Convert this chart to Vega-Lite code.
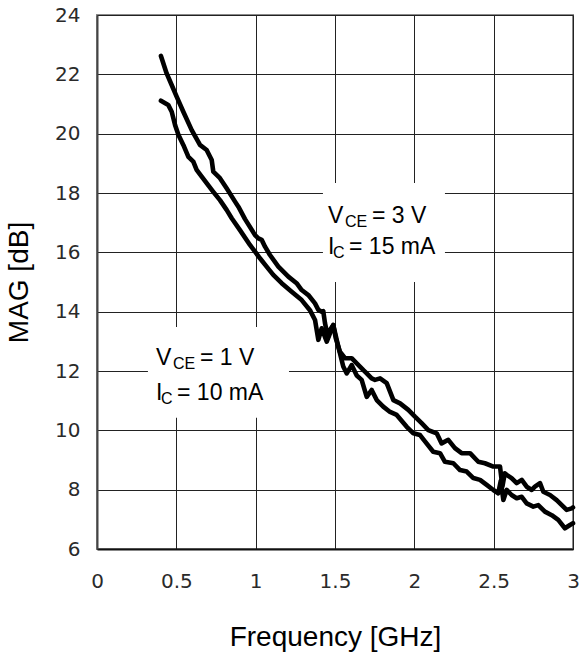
{
  "$schema": "https://vega.github.io/schema/vega-lite/v6.json",
  "width": 476,
  "height": 534,
  "autosize": "none",
  "padding": {"left": 97, "top": 15, "right": 8, "bottom": 107},
  "background": "white",
  "config": {
    "view": {"stroke": "#8a8a8a", "strokeWidth": 2},
    "axis": {
      "grid": true,
      "gridColor": "#222222",
      "gridWidth": 1,
      "gridOpacity": 1,
      "ticks": false,
      "domainWidth": 2,
      "labelFont": "DejaVu Sans",
      "labelFontSize": 20,
      "labelColor": "#2a2a2a",
      "titleFont": "Liberation Sans",
      "titleFontSize": 28,
      "titleFontWeight": "normal",
      "titleColor": "#000000"
    }
  },
  "datasets": {
    "curves": [
      {"series": "VCE=3V", "f": 0.403, "mag": 22.62},
      {"series": "VCE=3V", "f": 0.439, "mag": 22.03},
      {"series": "VCE=3V", "f": 0.47, "mag": 21.65},
      {"series": "VCE=3V", "f": 0.502, "mag": 21.25},
      {"series": "VCE=3V", "f": 0.544, "mag": 20.74},
      {"series": "VCE=3V", "f": 0.597, "mag": 20.12},
      {"series": "VCE=3V", "f": 0.649, "mag": 19.62},
      {"series": "VCE=3V", "f": 0.691, "mag": 19.45},
      {"series": "VCE=3V", "f": 0.723, "mag": 19.11},
      {"series": "VCE=3V", "f": 0.733, "mag": 18.72},
      {"series": "VCE=3V", "f": 0.775, "mag": 18.5},
      {"series": "VCE=3V", "f": 0.817, "mag": 18.16},
      {"series": "VCE=3V", "f": 0.87, "mag": 17.71},
      {"series": "VCE=3V", "f": 0.891, "mag": 17.54},
      {"series": "VCE=3V", "f": 0.933, "mag": 17.12},
      {"series": "VCE=3V", "f": 0.996, "mag": 16.58},
      {"series": "VCE=3V", "f": 1.017, "mag": 16.47},
      {"series": "VCE=3V", "f": 1.038, "mag": 16.42},
      {"series": "VCE=3V", "f": 1.059, "mag": 16.19},
      {"series": "VCE=3V", "f": 1.09, "mag": 15.91},
      {"series": "VCE=3V", "f": 1.143, "mag": 15.52},
      {"series": "VCE=3V", "f": 1.206, "mag": 15.18},
      {"series": "VCE=3V", "f": 1.258, "mag": 14.96},
      {"series": "VCE=3V", "f": 1.29, "mag": 14.73},
      {"series": "VCE=3V", "f": 1.332, "mag": 14.56},
      {"series": "VCE=3V", "f": 1.374, "mag": 14.28},
      {"series": "VCE=3V", "f": 1.395, "mag": 14.06},
      {"series": "VCE=3V", "f": 1.416, "mag": 14.0},
      {"series": "VCE=3V", "f": 1.426, "mag": 14.02},
      {"series": "VCE=3V", "f": 1.437, "mag": 13.61},
      {"series": "VCE=3V", "f": 1.455, "mag": 13.15},
      {"series": "VCE=3V", "f": 1.47, "mag": 13.4},
      {"series": "VCE=3V", "f": 1.489, "mag": 13.55},
      {"series": "VCE=3V", "f": 1.505, "mag": 13.1},
      {"series": "VCE=3V", "f": 1.531, "mag": 12.65},
      {"series": "VCE=3V", "f": 1.563, "mag": 12.43},
      {"series": "VCE=3V", "f": 1.605, "mag": 12.43},
      {"series": "VCE=3V", "f": 1.637, "mag": 12.26},
      {"series": "VCE=3V", "f": 1.679, "mag": 12.03},
      {"series": "VCE=3V", "f": 1.7, "mag": 11.92},
      {"series": "VCE=3V", "f": 1.731, "mag": 11.75},
      {"series": "VCE=3V", "f": 1.752, "mag": 11.7},
      {"series": "VCE=3V", "f": 1.784, "mag": 11.75},
      {"series": "VCE=3V", "f": 1.826, "mag": 11.59},
      {"series": "VCE=3V", "f": 1.868, "mag": 11.02},
      {"series": "VCE=3V", "f": 1.91, "mag": 10.91},
      {"series": "VCE=3V", "f": 1.962, "mag": 10.69},
      {"series": "VCE=3V", "f": 2.004, "mag": 10.46},
      {"series": "VCE=3V", "f": 2.046, "mag": 10.24},
      {"series": "VCE=3V", "f": 2.088, "mag": 10.01},
      {"series": "VCE=3V", "f": 2.141, "mag": 9.9},
      {"series": "VCE=3V", "f": 2.172, "mag": 9.56},
      {"series": "VCE=3V", "f": 2.214, "mag": 9.68},
      {"series": "VCE=3V", "f": 2.256, "mag": 9.4},
      {"series": "VCE=3V", "f": 2.298, "mag": 9.23},
      {"series": "VCE=3V", "f": 2.351, "mag": 9.23},
      {"series": "VCE=3V", "f": 2.403, "mag": 8.94},
      {"series": "VCE=3V", "f": 2.445, "mag": 8.89},
      {"series": "VCE=3V", "f": 2.498, "mag": 8.78},
      {"series": "VCE=3V", "f": 2.54, "mag": 8.78},
      {"series": "VCE=3V", "f": 2.555, "mag": 8.1},
      {"series": "VCE=3V", "f": 2.57, "mag": 8.55},
      {"series": "VCE=3V", "f": 2.582, "mag": 8.5},
      {"series": "VCE=3V", "f": 2.613, "mag": 8.39},
      {"series": "VCE=3V", "f": 2.645, "mag": 8.22},
      {"series": "VCE=3V", "f": 2.677, "mag": 8.33},
      {"series": "VCE=3V", "f": 2.708, "mag": 8.1},
      {"series": "VCE=3V", "f": 2.74, "mag": 7.99},
      {"series": "VCE=3V", "f": 2.76, "mag": 8.1},
      {"series": "VCE=3V", "f": 2.792, "mag": 8.22},
      {"series": "VCE=3V", "f": 2.813, "mag": 7.93},
      {"series": "VCE=3V", "f": 2.855, "mag": 7.82},
      {"series": "VCE=3V", "f": 2.897, "mag": 7.65},
      {"series": "VCE=3V", "f": 2.939, "mag": 7.43},
      {"series": "VCE=3V", "f": 2.96, "mag": 7.32},
      {"series": "VCE=3V", "f": 2.992, "mag": 7.37},
      {"series": "VCE=3V", "f": 3.0, "mag": 7.4},
      {"series": "VCE=1V", "f": 0.403, "mag": 21.11},
      {"series": "VCE=1V", "f": 0.449, "mag": 20.97},
      {"series": "VCE=1V", "f": 0.471, "mag": 20.74},
      {"series": "VCE=1V", "f": 0.492, "mag": 20.29},
      {"series": "VCE=1V", "f": 0.513, "mag": 19.96},
      {"series": "VCE=1V", "f": 0.544, "mag": 19.62},
      {"series": "VCE=1V", "f": 0.576, "mag": 19.22},
      {"series": "VCE=1V", "f": 0.607, "mag": 19.06},
      {"series": "VCE=1V", "f": 0.628, "mag": 18.78},
      {"series": "VCE=1V", "f": 0.66, "mag": 18.55},
      {"series": "VCE=1V", "f": 0.691, "mag": 18.33},
      {"series": "VCE=1V", "f": 0.733, "mag": 18.04},
      {"series": "VCE=1V", "f": 0.775, "mag": 17.76},
      {"series": "VCE=1V", "f": 0.817, "mag": 17.43},
      {"series": "VCE=1V", "f": 0.849, "mag": 17.15},
      {"series": "VCE=1V", "f": 0.901, "mag": 16.75},
      {"series": "VCE=1V", "f": 0.964, "mag": 16.25},
      {"series": "VCE=1V", "f": 0.996, "mag": 16.02},
      {"series": "VCE=1V", "f": 1.027, "mag": 15.8},
      {"series": "VCE=1V", "f": 1.069, "mag": 15.52},
      {"series": "VCE=1V", "f": 1.111, "mag": 15.24},
      {"series": "VCE=1V", "f": 1.164, "mag": 14.96},
      {"series": "VCE=1V", "f": 1.227, "mag": 14.67},
      {"series": "VCE=1V", "f": 1.29, "mag": 14.39},
      {"series": "VCE=1V", "f": 1.342, "mag": 14.05},
      {"series": "VCE=1V", "f": 1.374, "mag": 13.72},
      {"series": "VCE=1V", "f": 1.395, "mag": 13.05},
      {"series": "VCE=1V", "f": 1.416, "mag": 13.44},
      {"series": "VCE=1V", "f": 1.448, "mag": 12.99},
      {"series": "VCE=1V", "f": 1.489, "mag": 13.55},
      {"series": "VCE=1V", "f": 1.521, "mag": 12.82},
      {"series": "VCE=1V", "f": 1.552, "mag": 12.15},
      {"series": "VCE=1V", "f": 1.574, "mag": 11.92},
      {"series": "VCE=1V", "f": 1.605, "mag": 12.2},
      {"series": "VCE=1V", "f": 1.637, "mag": 11.85},
      {"series": "VCE=1V", "f": 1.668, "mag": 11.7},
      {"series": "VCE=1V", "f": 1.7, "mag": 11.13},
      {"series": "VCE=1V", "f": 1.731, "mag": 11.36},
      {"series": "VCE=1V", "f": 1.763, "mag": 11.02},
      {"series": "VCE=1V", "f": 1.804, "mag": 10.8},
      {"series": "VCE=1V", "f": 1.847, "mag": 10.62},
      {"series": "VCE=1V", "f": 1.889, "mag": 10.52},
      {"series": "VCE=1V", "f": 1.952, "mag": 10.12},
      {"series": "VCE=1V", "f": 1.994, "mag": 9.9},
      {"series": "VCE=1V", "f": 2.036, "mag": 9.84},
      {"series": "VCE=1V", "f": 2.077, "mag": 9.56},
      {"series": "VCE=1V", "f": 2.119, "mag": 9.28},
      {"series": "VCE=1V", "f": 2.162, "mag": 9.23},
      {"series": "VCE=1V", "f": 2.193, "mag": 8.94},
      {"series": "VCE=1V", "f": 2.246, "mag": 8.89},
      {"series": "VCE=1V", "f": 2.288, "mag": 8.66},
      {"series": "VCE=1V", "f": 2.33, "mag": 8.61},
      {"series": "VCE=1V", "f": 2.372, "mag": 8.39},
      {"series": "VCE=1V", "f": 2.414, "mag": 8.33},
      {"series": "VCE=1V", "f": 2.456, "mag": 8.16},
      {"series": "VCE=1V", "f": 2.498, "mag": 7.99},
      {"series": "VCE=1V", "f": 2.529, "mag": 7.88},
      {"series": "VCE=1V", "f": 2.545, "mag": 8.3},
      {"series": "VCE=1V", "f": 2.561, "mag": 7.65},
      {"series": "VCE=1V", "f": 2.582, "mag": 7.99},
      {"series": "VCE=1V", "f": 2.613, "mag": 7.82},
      {"series": "VCE=1V", "f": 2.645, "mag": 7.71},
      {"series": "VCE=1V", "f": 2.677, "mag": 7.76},
      {"series": "VCE=1V", "f": 2.708, "mag": 7.54},
      {"series": "VCE=1V", "f": 2.75, "mag": 7.43},
      {"series": "VCE=1V", "f": 2.781, "mag": 7.48},
      {"series": "VCE=1V", "f": 2.823, "mag": 7.26},
      {"series": "VCE=1V", "f": 2.866, "mag": 7.14},
      {"series": "VCE=1V", "f": 2.907, "mag": 6.98},
      {"series": "VCE=1V", "f": 2.949, "mag": 6.7},
      {"series": "VCE=1V", "f": 2.981, "mag": 6.81},
      {"series": "VCE=1V", "f": 3.0, "mag": 6.87}
    ],
    "boxes": [
      {"f": 1.424, "f2": 2.193, "mag": 15.0, "mag2": 18.34},
      {"f": 0.321, "f2": 1.21, "mag": 10.42, "mag2": 13.48}
    ],
    "labels": [
      {"kind": "V", "f": 1.456, "mag": 16.99, "main": "V", "sub": "CE", "rest": "= 3 V"},
      {"kind": "I", "f": 1.456, "mag": 15.94, "main": "I", "sub": "C", "rest": "= 15 mA"},
      {"kind": "V", "f": 0.372, "mag": 12.2, "main": "V", "sub": "CE", "rest": "= 1 V"},
      {"kind": "I", "f": 0.372, "mag": 11.02, "main": "I", "sub": "C", "rest": "= 10 mA"}
    ]
  },
  "encoding": {
    "x": {
      "field": "f",
      "type": "quantitative",
      "scale": {"domain": [0, 3], "nice": false},
      "axis": {
        "title": "Frequency [GHz]",
        "values": [0, 0.5, 1, 1.5, 2, 2.5, 3],
        "format": "~g",
        "labelPadding": 22,
        "titlePadding": 32,
        "domainColor": "#111111",
        "labelFlush": false
      }
    },
    "y": {
      "field": "mag",
      "type": "quantitative",
      "scale": {"domain": [6, 24], "nice": false},
      "axis": {
        "title": "MAG [dB]",
        "values": [6, 8, 10, 12, 14, 16, 18, 20, 22, 24],
        "labelPadding": 17,
        "titlePadding": 21,
        "domainColor": "#444444",
        "labelFlush": false
      }
    }
  },
  "layer": [
    {
      "data": {"name": "boxes"},
      "mark": {"type": "rect", "fill": "white", "stroke": null},
      "encoding": {
        "x2": {"field": "f2"},
        "y2": {"field": "mag2"}
      }
    },
    {
      "data": {"name": "curves"},
      "mark": {"type": "line", "color": "black", "strokeWidth": 4.6, "strokeJoin": "round", "strokeCap": "round"},
      "encoding": {
        "detail": {"field": "series"},
        "order": {"field": "f", "type": "quantitative"}
      }
    },
    {
      "data": {"name": "labels"},
      "mark": {"type": "text", "font": "Liberation Sans", "fontSize": 23, "align": "left", "baseline": "alphabetic", "color": "black"},
      "encoding": {"text": {"field": "main"}}
    },
    {
      "data": {"name": "labels"},
      "transform": [{"filter": "datum.kind === 'V'"}],
      "mark": {"type": "text", "font": "Liberation Sans", "fontSize": 16, "align": "left", "baseline": "alphabetic", "dx": 17, "dy": 4, "color": "black"},
      "encoding": {"text": {"field": "sub"}}
    },
    {
      "data": {"name": "labels"},
      "transform": [{"filter": "datum.kind === 'V'"}],
      "mark": {"type": "text", "font": "Liberation Sans", "fontSize": 23, "align": "left", "baseline": "alphabetic", "dx": 44, "color": "black"},
      "encoding": {"text": {"field": "rest"}}
    },
    {
      "data": {"name": "labels"},
      "transform": [{"filter": "datum.kind === 'I'"}],
      "mark": {"type": "text", "font": "Liberation Sans", "fontSize": 16, "align": "left", "baseline": "alphabetic", "dx": 5, "dy": 4, "color": "black"},
      "encoding": {"text": {"field": "sub"}}
    },
    {
      "data": {"name": "labels"},
      "transform": [{"filter": "datum.kind === 'I'"}],
      "mark": {"type": "text", "font": "Liberation Sans", "fontSize": 23, "align": "left", "baseline": "alphabetic", "dx": 21, "color": "black"},
      "encoding": {"text": {"field": "rest"}}
    }
  ]
}
